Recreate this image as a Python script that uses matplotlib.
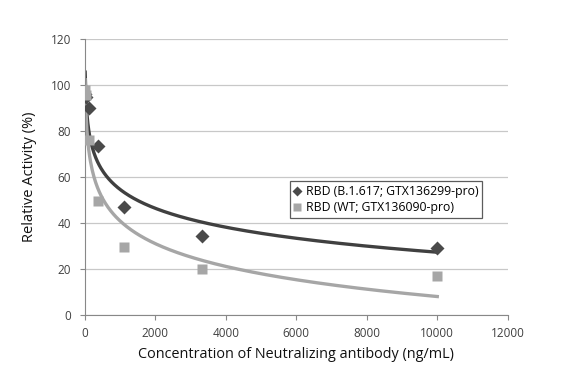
import numpy as np
import matplotlib.pyplot as plt

plt.rcParams['font.family'] = ['Open Sans', 'DejaVu Sans']

conc = [13.7, 41.2, 123, 370, 1111, 3333, 10000]
b1617 = [96, 95, 90.1, 73.5, 47.1, 34.3, 28.9]
wt = [98, 95.6, 76, 49.6, 29.6, 20.1, 17.0]
x_ticks = [0, 2000, 4000, 6000, 8000, 10000, 12000]
y_ticks = [0, 20, 40, 60, 80, 100, 120]

dark = '#4a4a4a'
light = '#a6a6a6'

fig = plt.figure(figsize=(5.82, 3.82), dpi=100)
ax = fig.add_axes([0.1455, 0.176, 0.727, 0.7217])

# logarithmic trend lines, like excel
xs = np.linspace(min(conc), max(conc), 400)
for y, c in [(b1617, '#404040'), (wt, light)]:
    a, b = np.polyfit(np.log(conc), y, 1)
    ax.plot(xs, a * np.log(xs) + b, color=c, lw=2.4, zorder=2)

ax.plot(conc, b1617, 'D', color=dark, ms=7.2, mec='none', zorder=3,
        label='RBD (B.1.617; GTX136299-pro)')
ax.plot(conc, wt, 's', color=light, ms=7.8, mec='none', zorder=4,
        label='RBD (WT; GTX136090-pro)')

ax.set_xlim(0, 12000)
ax.set_ylim(0, 120)
ax.set_xticks(x_ticks)
ax.set_yticks(y_ticks)
ax.tick_params(labelsize=8.5, labelcolor='#404040', color='#888888',
               length=3.8, width=0.8)
ax.tick_params(axis='y', pad=6)
ax.tick_params(axis='x', pad=5)
ax.grid(axis='y', color='#c8c8c8', lw=0.9)
ax.set_axisbelow(True)
for s in ['top', 'right']:
    ax.spines[s].set_visible(False)
for s in ['left', 'bottom']:
    ax.spines[s].set_color('#888888')

ax.set_ylabel('Relative Activity (%)', fontsize=10.5, labelpad=10, color='#111111')
ax.set_xlabel('Concentration of Neutralizing antibody (ng/mL)', fontsize=10.4,
              labelpad=5, color='#111111')

leg = ax.legend(loc='upper left', bbox_to_anchor=(0.47, 0.506), fontsize=8.8,
                frameon=True, fancybox=False, handlelength=0.6, handletextpad=0.4,
                borderpad=0.3, labelspacing=0.25, markerscale=0.75)
leg.get_frame().set_edgecolor('#333333')
leg.get_frame().set_linewidth(0.9)

fig.savefig('out.png', dpi=100)
